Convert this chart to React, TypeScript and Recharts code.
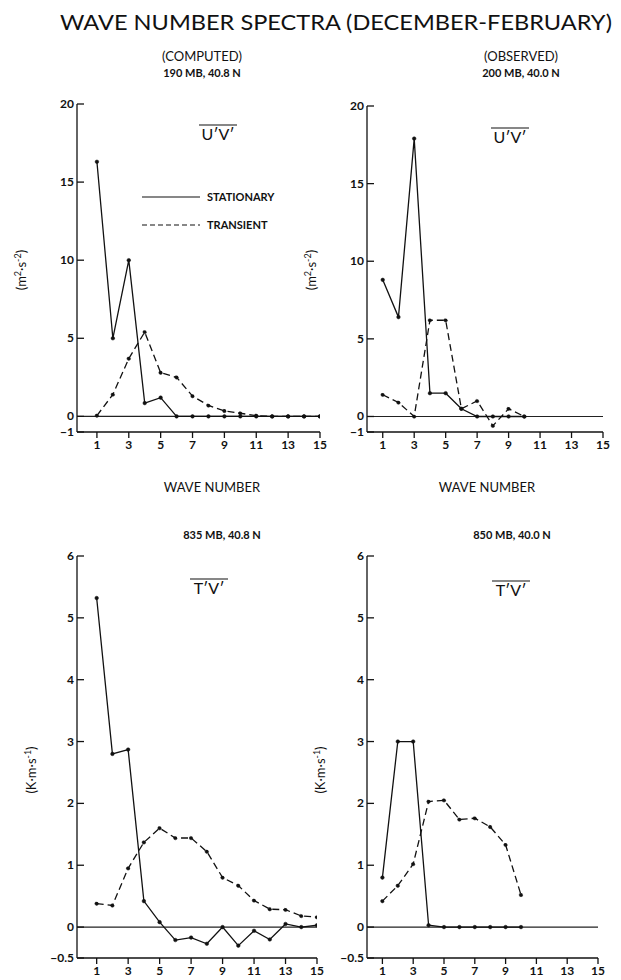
import { LineChart, Line, XAxis, YAxis, ReferenceLine } from "recharts"

// wave numbers
const waveFull = [1, 2, 3, 4, 5, 6, 7, 8, 9, 10, 11, 12, 13, 14, 15]
const waveShort = [1, 2, 3, 4, 5, 6, 7, 8, 9, 10]
const xTicks = [1, 3, 5, 7, 9, 11, 13, 15]

// U'V' computed, 190 mb
const uvCompStat = [16.3, 5.0, 10.0, 0.85, 1.2, 0, 0, 0, 0, 0, 0, 0, 0, 0, 0]
const uvCompTrans = [0.05, 1.4, 3.7, 5.4, 2.8, 2.5, 1.3, 0.7, 0.35, 0.2, 0.05, 0, 0, 0, 0]
// U'V' observed, 200 mb
const uvObsStat = [8.8, 6.4, 17.9, 1.5, 1.5, 0.5, 0, 0, 0, 0]
const uvObsTrans = [1.4, 0.9, 0, 6.2, 6.2, 0.5, 1.0, -0.6, 0.5, 0]
// T'V' computed, 835 mb
const tvCompStat = [5.32, 2.8, 2.87, 0.42, 0.08, -0.21, -0.17, -0.27, 0, -0.3, -0.06, -0.2, 0.05, 0, 0.03]
const tvCompTrans = [0.38, 0.35, 0.95, 1.37, 1.6, 1.44, 1.44, 1.22, 0.8, 0.67, 0.43, 0.29, 0.28, 0.18, 0.16]
// T'V' observed, 850 mb
const tvObsStat = [0.8, 3.0, 3.0, 0.03, 0, 0, 0, 0, 0, 0]
const tvObsTrans = [0.42, 0.67, 1.02, 2.03, 2.05, 1.74, 1.76, 1.62, 1.33, 0.52]

const uvTicks = [-1, 0, 5, 10, 15, 20]
const tvTicks = [-0.5, 0, 1, 2, 3, 4, 5, 6]

const FONT = "Lato, 'DejaVu Sans', sans-serif"
const YW = 40
const XH = 30
const MT = 12
const MR = 10

const fmtY = (v: number) => (v < 0 ? `\u2212${Math.abs(v)}` : `${v}`)

function YTick(props: any) {
  const { x, y, payload } = props
  return (
    <g>
      <line x1={x + 3} x2={x + 10} y1={y} y2={y} stroke="#111" strokeWidth={1.3} />
      <text x={x} y={y} dy={4} textAnchor="end" fontSize={12} fontWeight={700} fill="#111" fontFamily={FONT}>
        {fmtY(payload.value)}
      </text>
    </g>
  )
}

interface PanelProps {
  left: number
  top: number
  w: number
  h: number
  xs: number[]
  stat: number[]
  trans: number[]
  xDomain: [number, number]
  yDomain: [number, number]
  yTicks: number[]
}

function Panel({ left, top, w, h, xs, stat, trans, xDomain, yDomain, yTicks }: PanelProps) {
  const data = xs.map((x, i) => ({ x, stat: stat[i], trans: trans[i] }))
  return (
    <div style={{ position: "absolute", left: left - YW, top: top - MT }}>
      <LineChart width={w + YW + MR} height={h + XH + MT} data={data} margin={{ top: MT, right: MR, bottom: 0, left: 0 }}>
        <XAxis
          dataKey="x"
          type="number"
          domain={xDomain}
          ticks={xTicks}
          allowDataOverflow
          height={XH}
          stroke="#111"
          strokeWidth={1.3}
          tickSize={6}
          tick={{ fontSize: 12, fontWeight: 700, fill: "#111", fontFamily: FONT }}
        />
        <YAxis
          type="number"
          domain={yDomain}
          ticks={yTicks}
          width={YW}
          stroke="#111"
          strokeWidth={1.3}
          tickLine={false}
          tickSize={0}
          tickMargin={3}
          tick={<YTick />}
          interval={0}
        />
        <ReferenceLine y={0} stroke="#222" strokeWidth={1.2} />
        <Line
          dataKey="stat"
          stroke="#111"
          strokeWidth={1.3}
          dot={{ r: 1.8, fill: "#111", stroke: "#111", strokeWidth: 0.5 }}
          isAnimationActive={false}
        />
        <Line
          dataKey="trans"
          stroke="#111"
          strokeWidth={1.3}
          strokeDasharray="7 4"
          dot={{ r: 1.8, fill: "#111", stroke: "#111", strokeWidth: 0.5 }}
          isAnimationActive={false}
        />
      </LineChart>
    </div>
  )
}

function Overbar({ x, y, text }: { x: number; y: number; text: string }) {
  return (
    <g>
      <text x={x} y={y} textAnchor="middle" fontSize={16} fontFamily={FONT} fill="#111">{text}</text>
      <line x1={x - 19} x2={x + 19} y1={y - 15} y2={y - 15} stroke="#111" strokeWidth={1.2} />
    </g>
  )
}

export default function App() {
  return (
    <div style={{ position: "absolute", left: 0, top: 0, width: 621, height: 980, background: "#fff", fontFamily: FONT }}>
      <Panel left={77} top={104} w={243} h={328} xs={waveFull} stat={uvCompStat} trans={uvCompTrans}
        xDomain={[-0.25, 15]} yDomain={[-1, 20]} yTicks={uvTicks} />
      <Panel left={367} top={106} w={236} h={326} xs={waveShort} stat={uvObsStat} trans={uvObsTrans}
        xDomain={[0, 15]} yDomain={[-1, 20]} yTicks={uvTicks} />
      <Panel left={77} top={556} w={240} h={402} xs={waveFull} stat={tvCompStat} trans={tvCompTrans}
        xDomain={[-0.25, 15]} yDomain={[-0.5, 6]} yTicks={tvTicks} />
      <Panel left={367} top={556} w={231} h={402} xs={waveShort} stat={tvObsStat} trans={tvObsTrans}
        xDomain={[0, 15]} yDomain={[-0.5, 6]} yTicks={tvTicks} />

      <svg width={621} height={980} style={{ position: "absolute", left: 0, top: 0, pointerEvents: "none" }}>
        <g fill="#111" fontFamily={FONT}>
          <text x={60} y={30} fontSize={21} textLength={552} lengthAdjust="spacingAndGlyphs">
            WAVE NUMBER SPECTRA (DECEMBER-FEBRUARY)
          </text>
          <text x={202} y={61} fontSize={13} textAnchor="middle">(COMPUTED)</text>
          <text x={202} y={77} fontSize={11} fontWeight={700} textAnchor="middle">190 MB, 40.8 N</text>
          <text x={521} y={61} fontSize={13} textAnchor="middle">(OBSERVED)</text>
          <text x={521} y={77} fontSize={11} fontWeight={700} textAnchor="middle">200 MB, 40.0 N</text>

          <Overbar x={218} y={140} text="U′V′" />
          <Overbar x={510} y={143} text="U′V′" />
          <Overbar x={209} y={594} text="T′V′" />
          <Overbar x={511} y={596} text="T′V′" />

          <line x1={142} x2={200} y1={197} y2={197} stroke="#111" strokeWidth={1.2} />
          <text x={207} y={201} fontSize={11} fontWeight={700}>STATIONARY</text>
          <line x1={142} x2={200} y1={225} y2={225} stroke="#111" strokeWidth={1.2} strokeDasharray="5 3" />
          <text x={207} y={229} fontSize={11} fontWeight={700}>TRANSIENT</text>

          <text transform="translate(26,270) rotate(-90)" fontSize={13} textAnchor="middle">
            (m<tspan dy={-5} fontSize={9}>2</tspan><tspan dy={5}>·s</tspan><tspan dy={-5} fontSize={9}>-2</tspan><tspan dy={5}>)</tspan>
          </text>
          <text transform="translate(316,270) rotate(-90)" fontSize={13} textAnchor="middle">
            (m<tspan dy={-5} fontSize={9}>2</tspan><tspan dy={5}>·s</tspan><tspan dy={-5} fontSize={9}>-2</tspan><tspan dy={5}>)</tspan>
          </text>

          <text x={212} y={492} fontSize={13} textAnchor="middle">WAVE NUMBER</text>
          <text x={487} y={492} fontSize={13} textAnchor="middle">WAVE NUMBER</text>
          <text x={222} y={539} fontSize={11} fontWeight={700} textAnchor="middle">835 MB, 40.8 N</text>
          <text x={512} y={539} fontSize={11} fontWeight={700} textAnchor="middle">850 MB, 40.0 N</text>

          <text transform="translate(36,770) rotate(-90)" fontSize={13} textAnchor="middle">
            (K·m·s<tspan dy={-5} fontSize={9}>-1</tspan><tspan dy={5}>)</tspan>
          </text>
          <text transform="translate(325,770) rotate(-90)" fontSize={13} textAnchor="middle">
            (K·m·s<tspan dy={-5} fontSize={9}>-1</tspan><tspan dy={5}>)</tspan>
          </text>
        </g>
      </svg>
    </div>
  )
}
